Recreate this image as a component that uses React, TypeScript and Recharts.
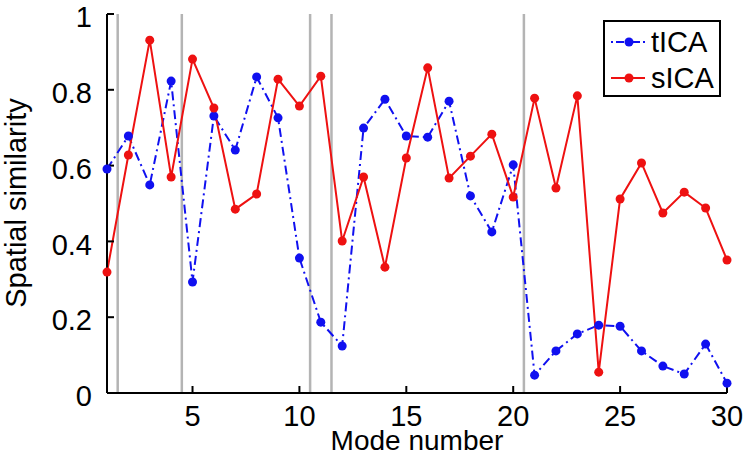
import React from "react";
import { LineChart, Line, XAxis, YAxis, ReferenceLine, Legend } from "recharts";

const FONT = "'Liberation Sans', Arial, Helvetica, sans-serif";
const FS = 29;

const modes = [
  1, 2, 3, 4, 5, 6, 7, 8, 9, 10, 11, 12, 13, 14, 15, 16, 17, 18, 19, 20, 21,
  22, 23, 24, 25, 26, 27, 28, 29, 30,
];

const tICA = [
  0.591, 0.678, 0.549, 0.823, 0.293, 0.731, 0.641, 0.834, 0.726, 0.356, 0.187,
  0.124, 0.699, 0.775, 0.678, 0.675, 0.77, 0.52, 0.425, 0.602, 0.047, 0.111,
  0.156, 0.179, 0.176, 0.111, 0.071, 0.05, 0.129, 0.026,
];

const sICA = [
  0.319, 0.628, 0.931, 0.57, 0.881, 0.752, 0.485, 0.525, 0.828, 0.757, 0.836,
  0.401, 0.57, 0.332, 0.62, 0.858, 0.567, 0.625, 0.683, 0.517, 0.778, 0.541,
  0.784, 0.055, 0.512, 0.607, 0.475, 0.53, 0.488, 0.351,
];

// gray separators between mode groups
const boundaries = [1.5, 4.5, 10.5, 11.5, 20.5];

const xTicks = [5, 10, 15, 20, 25, 30];
const yTicks = [0, 0.2, 0.4, 0.6, 0.8, 1];

const BLUE = "#1010f0";
const RED = "#ee1111";
const DASHDOT = "9 4 2 4";

const series = [
  { key: "tICA", color: BLUE, dash: DASHDOT },
  { key: "sICA", color: RED, dash: undefined },
];

const data = modes.map((m, i) => ({ mode: m, tICA: tICA[i], sICA: sICA[i] }));

const XTick = (props: any) => {
  const { x, y, payload } = props;
  return (
    <text
      x={x}
      y={y}
      dy="0.71em"
      textAnchor="middle"
      fontSize={FS}
      fontFamily={FONT}
      fill="#000"
    >
      {payload.value}
    </text>
  );
};

const YTick = (props: any) => {
  const { x, y, payload } = props;
  return (
    <text
      x={x}
      y={y + 3}
      dy="0.355em"
      textAnchor="end"
      fontSize={FS}
      fontFamily={FONT}
      fill="#000"
    >
      {String(payload.value)}
    </text>
  );
};

const LegendBox = () => (
  <div
    style={{
      boxSizing: "border-box",
      width: 118,
      height: 77,
      border: "2px solid #000",
      background: "#fff",
      fontFamily: FONT,
      fontSize: FS,
      paddingTop: 2,
    }}
  >
    {series.map((s) => (
      <div
        key={s.key}
        style={{ display: "flex", alignItems: "center", height: 36 }}
      >
        <svg width={46} height={36} style={{ display: "block" }}>
          <line
            x1={6}
            x2={40}
            y1={18}
            y2={18}
            stroke={s.color}
            strokeWidth={2}
            strokeDasharray={s.dash ? "2 3 8 3" : undefined}
          />
          <circle cx={24} cy={18} r={4.5} fill={s.color} />
        </svg>
        <span style={{ color: "#000", lineHeight: "36px" }}>{s.key}</span>
      </div>
    ))}
  </div>
);

export default function App() {
  return (
    <div style={{ position: "absolute", left: 0, top: 0, background: "#fff" }}>
      <LineChart
        width={746}
        height={456}
        data={data}
        margin={{ top: 14, right: 19, left: 0, bottom: 0 }}
      >
        <XAxis
          dataKey="mode"
          type="number"
          domain={[1, 30]}
          ticks={xTicks}
          height={63}
          axisLine={{ stroke: "#000", strokeWidth: 2 }}
          tickLine={{ stroke: "#000", strokeWidth: 2 }}
          tickSize={-7}
          tickMargin={19}
          tick={<XTick />}
          label={{
            content: () => (
              <text
                x={417}
                y={450}
                textAnchor="middle"
                fontSize={28}
                fontFamily={FONT}
                fill="#000"
              >
                Mode number
              </text>
            ),
          }}
        />
        <YAxis
          type="number"
          domain={[0, 1]}
          ticks={yTicks}
          width={107}
          axisLine={{ stroke: "#000", strokeWidth: 2 }}
          tickLine={{ stroke: "#000", strokeWidth: 2 }}
          tickSize={-7}
          tickMargin={22}
          tick={<YTick />}
          label={{
            content: () => (
              <text
                x={26}
                y={203}
                transform="rotate(-90 26 203)"
                textAnchor="middle"
                fontSize={FS}
                fontFamily={FONT}
                fill="#000"
              >
                Spatial similarity
              </text>
            ),
          }}
        />
        {boundaries.map((b) => (
          <ReferenceLine
            key={b}
            x={b}
            stroke="#b4b4b4"
            strokeWidth={2.5}
          />
        ))}
        {series.map((s) => (
          <Line
            key={s.key}
            dataKey={s.key}
            stroke={s.color}
            strokeWidth={2}
            strokeDasharray={s.dash}
            dot={{ r: 4.5, fill: s.color, stroke: "none" }}
            activeDot={false}
            isAnimationActive={false}
          />
        ))}
        <Legend
          layout="horizontal"
          verticalAlign="middle"
          align="center"
          content={() => <LegendBox />}
          wrapperStyle={{ left: 603, top: 20, width: 118, height: 77 }}
        />
      </LineChart>
    </div>
  );
}
